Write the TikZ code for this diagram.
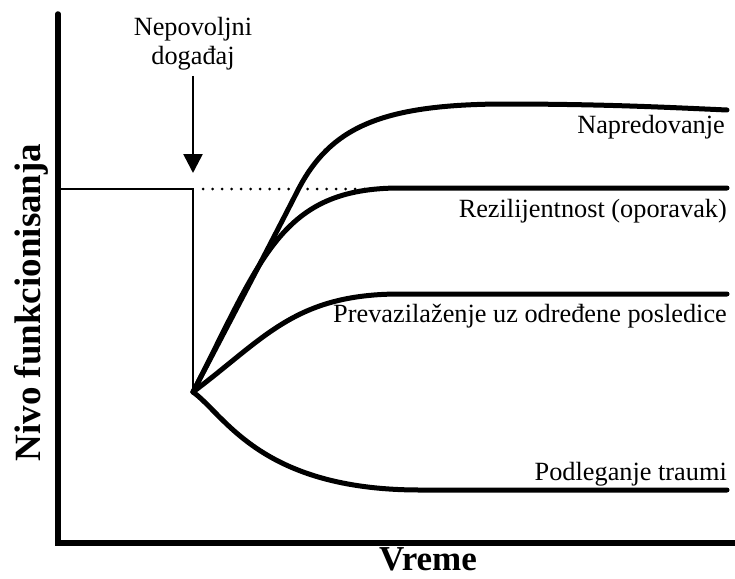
\documentclass[tikz,border=0pt]{standalone}
\usepackage{fontspec}
\setmainfont{Liberation Serif}
\usetikzlibrary{arrows.meta}
\begin{document}
\begin{tikzpicture}[x=1pt,y=-1pt,
  axisline/.style={line width=5.5pt},
  thinline/.style={line width=2.6pt},
  curve/.style={line width=5pt, line cap=round},
  dotline/.style={line width=3pt, line cap=round, dash pattern=on 0pt off 9.5pt},
  lbl/.style={font=\fontsize{26.3}{29}\selectfont, inner sep=0pt},
  bigl/.style={font=\fontsize{37}{40}\selectfont\bfseries, inner sep=0pt}]
\useasboundingbox (0,0) rectangle (735,578);
% axes
\coordinate (Otop) at (58,14);
\coordinate (O) at (58,543);
\coordinate (Xend) at (735,543);
\draw[axisline, line cap=round] (Otop) -- (O) -- (Xend);
% baseline and drop
\coordinate (B0) at (61,189);
\coordinate (B1) at (193,189);
\coordinate (P) at (193,392);
\draw[thinline] (B0) -- (B1) -- (P);
% dotted continuation
\coordinate (D0) at (203,189);
\coordinate (D1) at (392,189);
\draw[dotline] (D0) -- (D1);
% event label and arrow
\node[lbl, align=center, outer sep=6pt] (ev) at (193,43.5) {Nepovoljni\\događaj};
\coordinate (tip) at (193,173);
\draw[thinline, -{Triangle[width=19pt,length=19pt]}] (ev) -- (tip);
% trajectories
\coordinate (Nend) at (727,110);
\coordinate (Rend) at (727,188);
\coordinate (Pend) at (727,294);
\coordinate (Tend) at (727,490);
\draw[curve] (P) .. controls (228,325) and (270,245) .. (298,190)
  .. controls (330,128) and (380,105) .. (500,104)
  .. controls (600,104) and (660,107) .. (Nend);
\draw[curve] (P) .. controls (262,258) and (280,188) .. (400,188) -- (Rend);
\draw[curve] (P) .. controls (265,338) and (295,294) .. (400,294) -- (Pend);
\draw[curve] (P) .. controls (225,415) and (260,490) .. (420,490) -- (Tend);
% labels
\node[lbl, anchor=base east] (napr) at (725,133) {Napredovanje};
\node[lbl, anchor=base east] (rez) at (727,217) {Rezilijentnost (oporavak)};
\node[lbl, anchor=base east] (prev) at (727,322) {Prevazilaženje uz određene posledice};
\node[lbl, anchor=base east] (podl) at (727,480) {Podleganje traumi};
\node[bigl, font=\fontsize{35}{38}\selectfont\bfseries, anchor=base] (xl) at (428,570) {Vreme};
\node[bigl, anchor=base, rotate=90] (yl) at (40,302.5) {Nivo funkcionisanja};
\end{tikzpicture}
\end{document}
